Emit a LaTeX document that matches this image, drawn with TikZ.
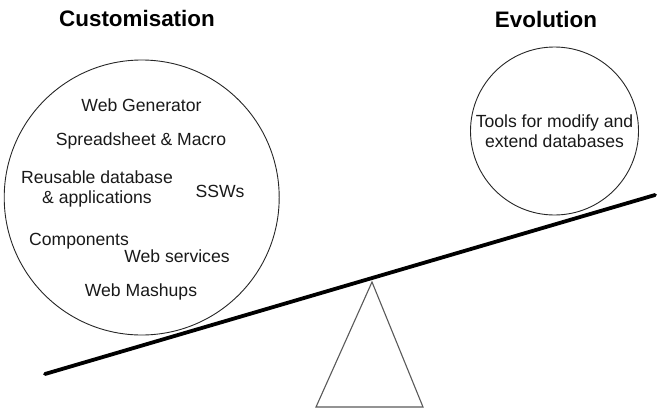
\documentclass[tikz,border=0pt]{standalone}
\usepackage{fontspec}
\setmainfont{Liberation Sans}
\begin{document}
\begin{tikzpicture}[x=1pt,y=-1pt,
  bubble/.style={draw=black!85,line width=0.9pt,circle,inner sep=0pt},
  lbl/.style={font=\fontsize{17.6}{20}\selectfont,inner sep=0pt,align=center,text=black!90},
  ttl/.style={font=\fontsize{22.4}{26}\selectfont\bfseries,inner sep=0pt},
  lever/.style={line width=3.8pt,line cap=round},
  fulcrum/.style={draw=black!65,line width=1.1pt}]
\useasboundingbox (0,0) rectangle (661,410);
\node[ttl] (tc) at (137,18) {Customisation};
\node[ttl] (te) at (546,19) {Evolution};
\node[bubble,minimum size=275pt] (cc) at (141.7,197.5) {};
\node[bubble,minimum size=168pt] (ce) at (554.5,131) {};
\node[lbl] (wg) at (141.5,105) {Web Generator};
\node[lbl] (sm) at (141,141) {Spreadsheet \& Macro};
\node[lbl] (rd) at (97,189) {Reusable database\\\& applications};
\node[lbl] (ss) at (220,191) {SSWs};
\node[lbl] (co) at (79,241) {Components};
\node[lbl] (ws) at (177,256) {Web services};
\node[lbl] (wm) at (141,292) {Web Mashups};
\node[lbl] (tf) at (554.5,131) {Tools for modify and\\extend databases};
\coordinate (la) at (45,374);
\coordinate (lb) at (655,195);
\draw[lever] (la) -- (lb);
\coordinate (apex) at (372,282);
\coordinate (bl) at (316,407);
\coordinate (br) at (423,407);
\draw[fulcrum] (apex) -- (bl) -- (br) -- cycle;
\end{tikzpicture}
\end{document}
